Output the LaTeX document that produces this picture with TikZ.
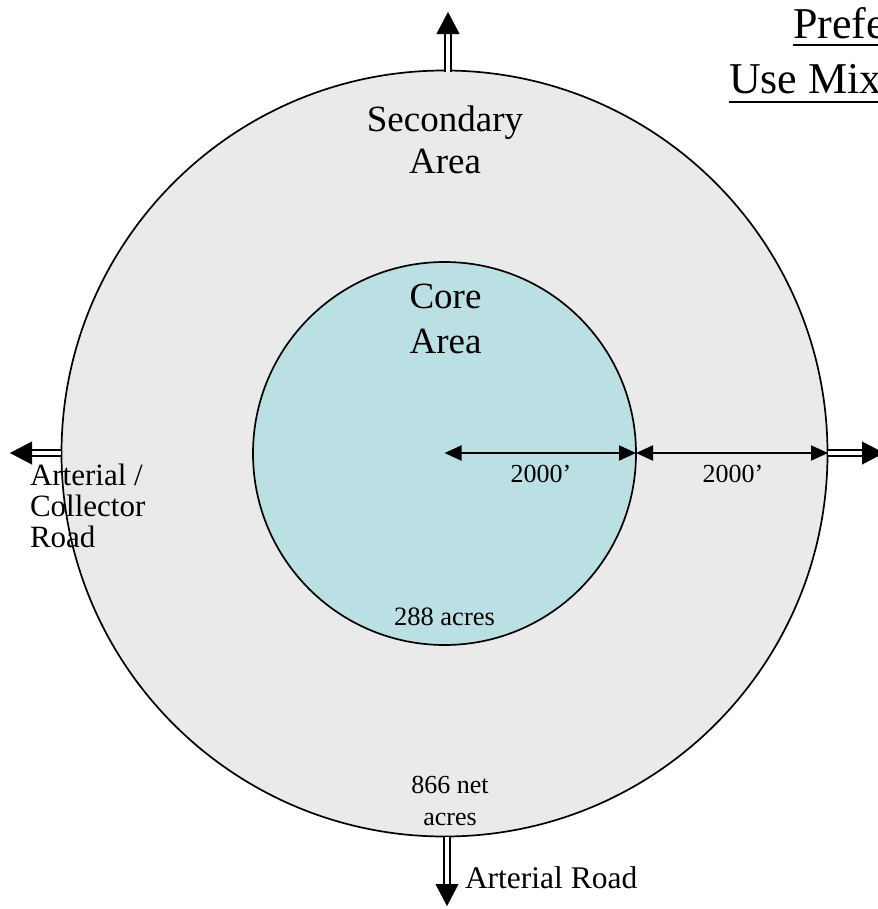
\documentclass[tikz,border=0pt]{standalone}
\usepackage{fontspec}
\setmainfont{Liberation Serif}
\usetikzlibrary{arrows.meta}

\definecolor{secfill}{RGB}{234,234,234}
\definecolor{corefill}{RGB}{186,224,227}

\newcommand{\fs}[1]{\fontsize{#1bp}{1.15\dimexpr#1bp\relax}\selectfont}

\tikzset{
  zone/.style={circle, draw=black, line width=1.7bp, inner sep=0pt, outer sep=0pt},
  dimline/.style={line width=2bp, {Triangle[length=17bp,width=15bp]}-{Triangle[length=17bp,width=15bp]}},
  roadshaft/.style={draw=black, line width=2bp, double=white, double distance=4.5bp},
  roadtip/.style={draw=white, line width=0.3bp, -{Triangle[length=22bp,width=23bp,color=black]}},
  lbl/.style={inner sep=0pt, outer sep=0pt},
  rule/.style={line width=2bp}
}

\begin{document}
\begin{tikzpicture}[x=1bp,y=-1bp]
  \useasboundingbox (0,0) rectangle (878,909);
  \clip (0,0) rectangle (878,909);

  % the two zones
  \node[zone, fill=secfill, minimum size=766bp] (outer) at (444.5,453.5) {};
  \node[zone, fill=corefill, minimum size=383bp] (inner) at (444.5,453.5) {};
  \coordinate (centre) at (444.5,453);
  \coordinate (innerE) at (636,453);
  \coordinate (outerE) at (828,453);

  % radius dimensions
  \draw[dimline] (centre) -- (innerE);
  \draw[dimline] (innerE) -- (outerE);
  \node[lbl, anchor=base, font=\fs{26}] (d1) at (541,482) {2000’};
  \node[lbl, anchor=base, font=\fs{26}] (d2) at (733,482) {2000’};

  % roads leaving the area
  \coordinate (nS) at (448,72);   \coordinate (nB) at (448,34);  \coordinate (nT) at (448,12);
  \coordinate (sS) at (447,837);  \coordinate (sB) at (447,884); \coordinate (sT) at (447,906);
  \coordinate (wS) at (61,453);   \coordinate (wB) at (32,453);  \coordinate (wT) at (10,453);
  \coordinate (eS) at (828,453);  \coordinate (eB) at (862,453); \coordinate (eT) at (884,453);
  \foreach \r in {n,s,w,e}{
    \draw[roadshaft] (\r S) -- (\r B);
    \draw[roadtip] (\r B) -- (\r T);
  }

  % zone labels (anchored on the baseline of their last line)
  \node[lbl, anchor=base, align=center, font=\fs{37}] (sec) at (445,173) {Secondary\\[-1bp]Area};
  \node[lbl, anchor=base, align=center, font=\fs{37}] (core) at (445.5,353) {Core\\[1.5bp]Area};
  \node[lbl, anchor=base, font=\fs{26.5}] (coreac) at (444.5,625) {288 acres};
  \node[lbl, anchor=base, align=center, font=\fs{26}] (secac) at (450,825) {866 net\\[2bp]acres};

  % road labels
  \node[lbl, anchor=base west, align=left, font=\fs{31}] (wroad) at (30,547) {Arterial /\\[-5bp]Collector\\[-5bp]Road};
  \node[lbl, anchor=base west, font=\fs{31.5}] (sroad) at (465,888) {Arterial Road};

  % heading
  \node[lbl, anchor=base west, font=\fs{44}] (head1) at (793,38) {Prefe};
  \node[lbl, anchor=base west, font=\fs{44}] (head2) at (729,93) {Use Mix};
  \draw[rule] (head1.base west) ++(0,7) -- (878,45);
  \draw[rule] (head2.base west) ++(0,8.5) -- (878,101.5);
\end{tikzpicture}
\end{document}
